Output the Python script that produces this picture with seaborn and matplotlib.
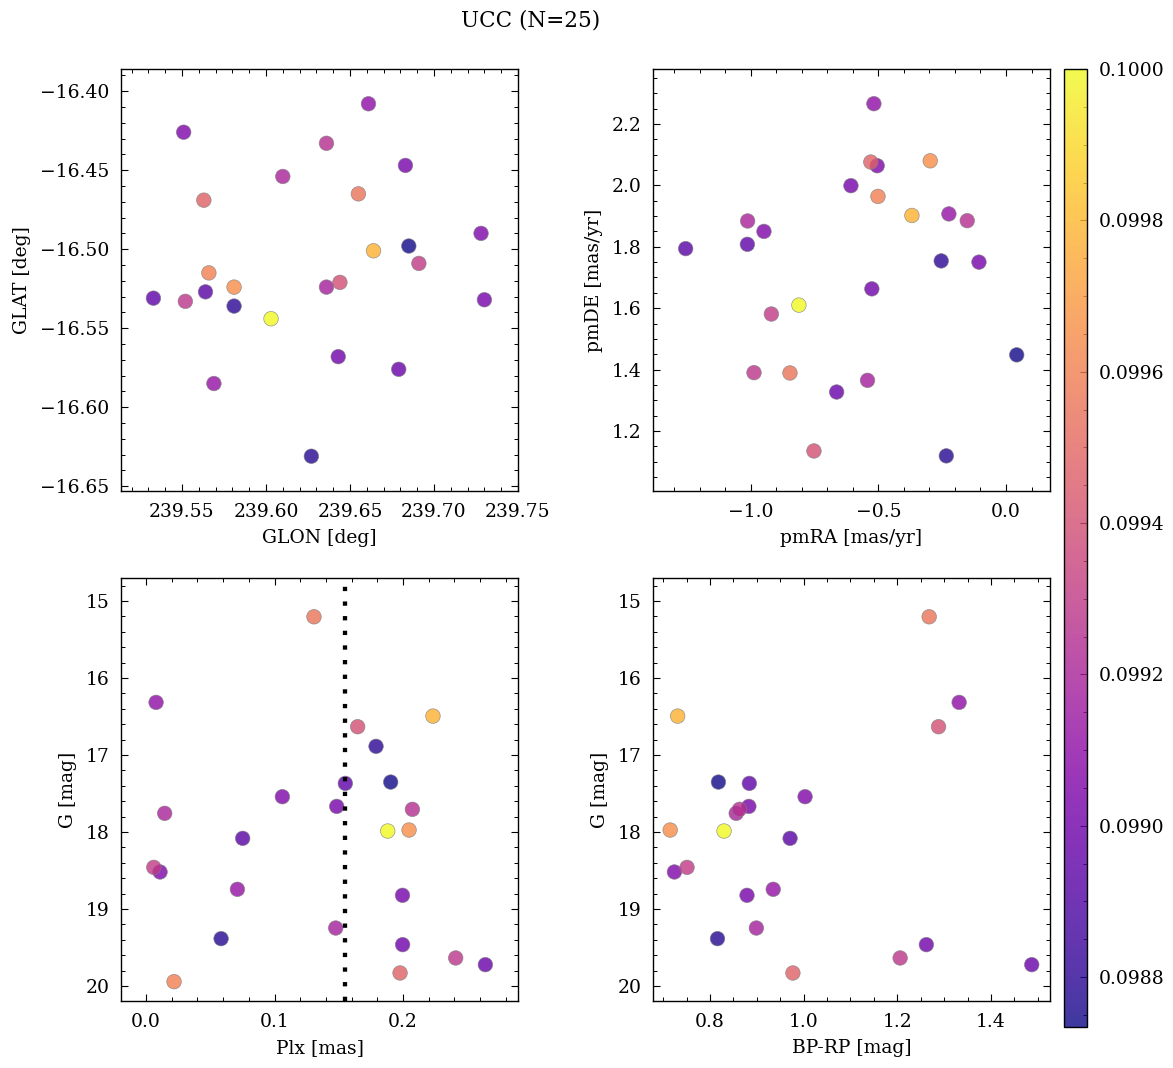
import numpy as np
import pandas as pd
import matplotlib
matplotlib.use("Agg")
import matplotlib.pyplot as plt
import seaborn as sns
from matplotlib.colors import Normalize
from matplotlib.ticker import FormatStrFormatter, MultipleLocator

# --- datos (25 estrellas) ---
glon = [239.655, 239.661, 239.664, 239.644, 239.581, 239.533, 239.685, 239.551,
        239.683, 239.636, 239.610, 239.603, 239.581, 239.564, 239.691, 239.728,
        239.569, 239.730, 239.636, 239.627, 239.643, 239.552, 239.679, 239.563,
        239.566]
glat = [-16.465, -16.408, -16.501, -16.521, -16.536, -16.531, -16.498, -16.426,
        -16.447, -16.433, -16.454, -16.544, -16.524, -16.527, -16.509, -16.490,
        -16.585, -16.532, -16.524, -16.631, -16.568, -16.533, -16.576, -16.469,
        -16.515]
pmra = [-0.847, -0.518, -0.369, -0.753, -0.254, -1.014, 0.042, -0.505,
        -0.608, -0.152, -1.013, -0.812, -0.297, -1.256, -0.920, -0.949,
        -0.224, -0.106, -0.543, -0.234, -0.526, -0.988, -0.664, -0.530,
        -0.502]
pmde = [1.389, 2.266, 1.902, 1.135, 1.754, 1.808, 1.448, 2.064,
        1.999, 1.885, 1.884, 1.610, 2.080, 1.794, 1.581, 1.850,
        1.907, 1.750, 1.365, 1.119, 1.663, 1.390, 1.327, 2.076,
        1.964]
plx = [0.1307, 0.0078, 0.2233, 0.1647, 0.1790, 0.1551, 0.1904, 0.1061,
       0.1484, 0.2073, 0.0145, 0.1881, 0.2047, 0.0752, 0.0060, 0.0109,
       0.0711, 0.1996, 0.1476, 0.0584, 0.1997, 0.2410, 0.2641, 0.1977,
       0.0218]
gmag = [15.204, 16.316, 16.494, 16.632, 16.887, 17.368, 17.351, 17.541,
        17.667, 17.705, 17.757, 17.987, 17.974, 18.082, 18.459, 18.519,
        18.744, 18.822, 19.247, 19.385, 19.463, 19.636, 19.723, 19.831,
        19.944]
bprp = [1.268, 1.332, 0.731, 1.288, np.nan, 0.884, 0.818, 1.003,
        0.883, 0.863, 0.856, 0.830, 0.715, 0.971, 0.751, 0.724,
        0.935, 0.879, 0.899, 0.816, 1.262, 1.206, 1.487, 0.977,
        np.nan]
prob = [0.09955, 0.09910, 0.09978, 0.09940, 0.09880, 0.09895, 0.09874, 0.09905,
        0.09902, 0.09925, 0.09920, 0.10000, 0.09965, 0.09893, 0.09930, 0.09905,
        0.09912, 0.09902, 0.09918, 0.09878, 0.09900, 0.09928, 0.09898, 0.09948,
        0.09960]
plx_lim = 0.155

df = pd.DataFrame({"GLON": glon, "GLAT": glat, "pmRA": pmra, "pmDE": pmde,
                   "Plx": plx, "G": gmag, "BP-RP": bprp, "prob": prob})
df = df.sort_values("prob")

sns.set_theme(style="ticks")
plt.rcParams.update({
    "font.family": ["DejaVu Serif"],
    "font.size": 13.5,
    "text.color": "black", "axes.labelcolor": "black",
    "xtick.direction": "in", "ytick.direction": "in",
    "xtick.top": True, "ytick.right": True,
    "xtick.minor.visible": True, "ytick.minor.visible": True,
    "xtick.major.size": 5, "ytick.major.size": 5,
    "xtick.minor.size": 3, "ytick.minor.size": 3,
    "xtick.major.width": 0.8, "ytick.major.width": 0.8,
    "xtick.minor.width": 0.7, "ytick.minor.width": 0.7,
    "xtick.major.pad": 8.5, "ytick.major.pad": 8.5,
    "xtick.minor.pad": 8.5, "ytick.minor.pad": 8.5,
    "axes.labelpad": 6,
    "axes.linewidth": 1.0,
    "xtick.labelsize": 13.5, "ytick.labelsize": 13.5,
    "axes.labelsize": 13.5,
    "xtick.color": "black", "ytick.color": "black",
    "axes.edgecolor": "black",
})

vmin, vmax = 0.098734, 0.1000
norm = Normalize(vmin, vmax)

fig = plt.figure(figsize=(11.73, 10.68), dpi=100)
W, H = 1173, 1068
def box(x0, y0, x1, y1):
    return [x0 / W, 1 - y1 / H, (x1 - x0) / W, (y1 - y0) / H]

ax1 = fig.add_axes(box(121, 69, 518, 491))
ax2 = fig.add_axes(box(653, 69, 1050, 491))
ax3 = fig.add_axes(box(121, 578, 518, 1001))
ax4 = fig.add_axes(box(653, 578, 1050, 1001))
cax = fig.add_axes(box(1064, 69, 1087, 1027))

kw = dict(hue="prob", palette="plasma", hue_norm=norm, legend=False,
          s=110, alpha=0.8, edgecolor="grey", linewidth=0.5)

sns.scatterplot(data=df, x="GLON", y="GLAT", ax=ax1, **kw)
ax1.set_xlim(239.5137, 239.75)
ax1.set_ylim(-16.653, -16.386)
ax1.xaxis.set_major_locator(MultipleLocator(0.05))
ax1.yaxis.set_major_locator(MultipleLocator(0.05))
ax1.set_xlabel("GLON [deg]")
ax1.set_ylabel("GLAT [deg]")

sns.scatterplot(data=df, x="pmRA", y="pmDE", ax=ax2, **kw)
ax2.set_xlim(-1.384, 0.1725)
ax2.set_ylim(1.0046, 2.379)
ax2.xaxis.set_major_locator(MultipleLocator(0.5))
ax2.yaxis.set_major_locator(MultipleLocator(0.2))
ax2.set_xlabel("pmRA [mas/yr]")
ax2.set_ylabel("pmDE [mas/yr]")

sns.scatterplot(data=df, x="Plx", y="G", ax=ax3, **kw)
ax3.axvline(plx_lim, color="black", ls=(0, (1, 2.4)), lw=3.1)
ax3.set_xlim(-0.0195, 0.2895)
ax3.set_ylim(20.195, 14.70)
ax3.xaxis.set_major_locator(MultipleLocator(0.1))
ax3.yaxis.set_major_locator(MultipleLocator(1))
ax3.set_xlabel("Plx [mas]")
ax3.set_ylabel("G [mag]")

sns.scatterplot(data=df.dropna(), x="BP-RP", y="G", ax=ax4, **kw)
ax4.set_xlim(0.6783, 1.526)
ax4.set_ylim(20.195, 14.70)
ax4.xaxis.set_major_locator(MultipleLocator(0.2))
ax4.yaxis.set_major_locator(MultipleLocator(1))
ax4.set_xlabel("BP-RP [mag]")
ax4.set_ylabel("G [mag]")

sm = plt.cm.ScalarMappable(norm=norm, cmap="plasma")
cb = fig.colorbar(sm, cax=cax, alpha=0.8)
cb.set_ticks([0.0988, 0.0990, 0.0992, 0.0994, 0.0996, 0.0998, 0.1000])
cb.ax.yaxis.set_major_formatter(FormatStrFormatter("%.4f"))
cb.ax.minorticks_on()
cb.ax.tick_params(which="both", direction="in", right=True, left=False, pad=8.5)
cb.outline.set_linewidth(1.0)

fig.suptitle("UCC (N=25)", x=0.452, y=0.991, fontsize=15.5)
fig.savefig("out.png", dpi=100)
